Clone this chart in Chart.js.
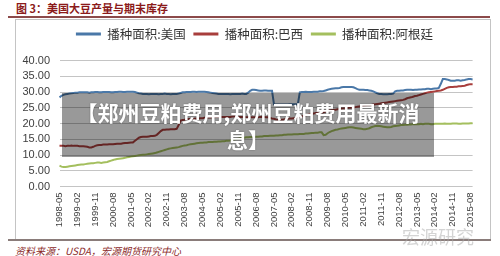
<!DOCTYPE html>
<html><head><meta charset="utf-8">
<script src="https://cdn.jsdelivr.net/npm/chart.js@4"></script>
<style>
html,body{margin:0;padding:0;background:#fff;width:500px;height:256px;overflow:hidden;position:relative;font-family:"Noto Sans CJK SC",sans-serif;}
#title{position:absolute;left:16px;top:2px;font-size:11px;line-height:13px;font-weight:bold;color:#8b1a1a;white-space:nowrap;}
#uline{position:absolute;left:8px;top:16px;width:482px;height:1.5px;background:#8c4a4a;}
#box{position:absolute;left:15px;top:19px;width:474px;height:220px;border:1px solid #c4c4c4;border-bottom:none;}
#bline{position:absolute;left:8px;top:239px;width:483px;height:2px;background:#8a7c7a;}
#cv{position:absolute;left:16px;top:20px;}
#src{position:absolute;left:15px;top:245px;font-size:10px;line-height:12px;font-style:italic;color:#8b2a2a;white-space:nowrap;}
#wm{position:absolute;left:402px;top:226px;font-size:18px;line-height:20px;color:rgba(170,170,170,0.5);white-space:nowrap;}
#ov{position:absolute;left:62px;top:92.5px;width:372px;height:64px;box-sizing:border-box;padding-top:6px;background:rgba(0,0,0,0.4);color:#fff;font-weight:bold;font-size:21px;line-height:27px;text-align:center;text-shadow:0 0 2px rgba(0,0,0,0.35);}
</style></head>
<body>
<div id="title">图 3：美国大豆产量与期末库存</div>
<div id="uline"></div>
<div id="box"></div>
<canvas id="cv" width="474" height="219"></canvas>
<div id="bline"></div>
<div id="src">资料来源：USDA，宏源期货研究中心</div>
<div id="wm">宏源研究</div>
<div id="ov">【郑州豆粕费用,郑州豆粕费用最新消<br>息】</div>
<script>
// monthly categories 1998-05 .. 2015-09
const startYear = 1998, startMonth = 5, monthCount = 209;
const months = [];
for (let i = 0; i < monthCount; i++) {
  const m = startMonth - 1 + i;
  months.push((startYear + Math.floor(m / 12)) + '-' + String(m % 12 + 1).padStart(2, '0'));
}
const tickLabels = ['1998-05','1999-02','1999-11','2000-08','2001-05','2002-02','2002-11','2003-08','2004-05','2005-02','2005-11','2006-08','2007-05','2008-02','2008-11','2009-08','2010-05','2011-02','2011-11','2012-08','2013-05','2014-02','2014-11','2015-08'];
const seriesNames = ['播种面积:美国','播种面积:巴西','播种面积:阿根廷'];

const usArea = [
28.3,28.8,29.1,29.3,29.4,29.5,29.6,29.7,29.8,29.8,29.9,29.9,
29.9,29.9,29.9,29.8,29.9,29.9,30.0,30.0,29.9,29.9,30.0,30.0,
30.0,30.0,29.9,29.9,30.0,30.0,30.1,30.1,30.0,30.0,30.1,30.1,
30.1,30.1,30.0,29.8,29.6,29.5,29.4,29.4,29.4,29.3,29.4,29.4,
29.4,29.4,29.3,29.4,29.4,29.5,29.4,29.4,29.3,29.4,29.4,29.4,
29.5,29.7,29.9,29.9,30.0,30.0,30.0,30.1,30.1,30.0,30.1,30.1,
30.1,30.1,30.0,29.9,29.8,29.7,29.6,29.5,29.4,29.4,29.4,29.4,
29.4,29.4,29.3,29.4,29.4,29.4,29.4,29.4,29.5,29.4,29.4,29.8,
30.4,30.7,30.7,30.6,30.5,30.4,30.4,30.5,30.5,30.4,30.4,30.4,
26.1,26.0,26.0,26.0,26.0,26.0,26.0,26.0,26.1,26.1,26.1,26.1,
26.1,29.9,30.0,30.0,30.1,30.0,30.0,30.0,30.1,30.1,30.1,30.2,
30.2,30.3,30.5,30.7,30.9,31.0,31.1,31.2,31.2,31.3,31.5,31.6,
31.6,31.6,31.6,31.6,31.5,31.2,30.9,30.7,30.7,30.7,30.6,30.6,
30.5,30.4,30.2,29.9,29.6,29.4,29.4,29.3,29.3,29.3,29.4,29.4,
29.5,30.2,30.4,30.4,30.5,30.5,30.6,30.7,30.7,30.7,30.6,30.7,
30.7,30.8,30.8,30.9,30.9,31.0,31.0,30.9,31.0,31.1,31.1,31.3,
32.6,34.1,34.1,34.0,33.8,33.6,33.6,33.6,33.7,33.7,33.6,33.7,
33.8,34.0,34.1,34.1,34.0];

const brazilArea = [
12.9,12.9,12.9,12.8,12.9,12.9,13.0,12.9,12.9,12.9,12.8,12.8,
12.8,12.7,12.6,12.4,12.4,12.6,12.9,13.1,13.2,13.2,13.3,13.3,
13.3,13.4,13.4,13.4,13.5,13.6,13.6,13.6,13.7,13.8,13.8,13.9,
14.0,14.0,14.5,15.0,15.5,15.7,15.8,15.8,15.8,15.9,16.0,16.0,
16.1,16.4,17.0,17.6,18.0,18.0,18.1,18.1,18.2,18.2,18.2,18.3,
19.5,20.9,21.1,21.2,21.4,21.4,21.4,21.5,21.5,21.6,21.6,21.7,
21.7,21.8,21.8,21.9,21.9,22.0,22.0,22.1,22.1,22.1,22.1,22.1,
22.1,22.1,22.1,22.2,22.2,22.2,22.1,22.1,22.1,22.1,22.0,22.0,
22.0,22.0,22.0,22.0,22.0,22.1,22.1,22.1,22.0,22.0,21.8,21.6,
21.5,21.3,21.2,21.2,21.2,21.3,21.4,21.5,21.6,21.6,21.7,21.8,
21.9,22.0,22.2,22.4,22.6,22.8,23.0,23.1,23.2,23.3,23.4,23.5,
23.5,23.6,23.8,24.0,24.1,24.2,24.3,24.4,24.5,24.6,24.7,24.8,
24.8,24.9,25.0,25.0,25.1,25.2,25.3,25.4,25.5,25.6,25.7,25.8,
25.8,25.9,26.0,26.1,26.2,26.3,26.4,26.5,26.6,26.7,26.8,26.9,
27.0,27.1,27.2,27.3,27.4,27.5,27.7,28.0,28.2,28.3,28.5,28.7,
28.8,29.0,29.2,29.4,29.6,29.8,29.9,30.0,30.1,30.2,30.3,30.4,
30.5,30.7,31.0,31.3,31.5,31.6,31.6,31.7,31.7,31.8,31.8,31.9,
32.0,32.2,32.4,32.5,32.5];

const argentinaArea = [
6.6,6.3,6.2,6.2,6.3,6.4,6.5,6.6,6.7,6.8,6.9,7.0,
7.0,7.1,7.2,7.3,7.4,7.4,7.5,7.6,7.6,7.5,7.6,7.7,
7.8,8.0,8.2,8.4,8.6,8.7,8.8,8.9,9.0,9.1,9.3,9.4,
9.5,9.6,9.7,9.8,9.9,10.0,10.1,10.1,10.2,10.3,10.4,10.5,
10.6,10.8,11.0,11.2,11.4,11.6,11.8,12.0,12.1,12.2,12.3,12.4,
12.5,12.7,12.9,13.0,13.1,13.3,13.4,13.5,13.6,13.7,13.8,13.9,
13.9,14.0,14.0,14.1,14.1,14.1,14.2,14.2,14.3,14.3,14.4,14.4,
14.5,14.5,14.6,14.8,15.0,15.1,15.2,15.3,15.4,15.5,15.6,15.6,
15.7,15.7,15.7,15.8,15.8,15.9,15.9,16.0,16.0,16.0,16.1,16.1,
16.1,16.2,16.2,16.3,16.3,16.4,16.4,16.5,16.5,16.5,16.6,16.6,
16.6,16.7,16.7,16.7,16.8,16.8,16.9,17.0,17.0,17.1,17.1,17.2,
17.2,16.3,16.4,16.9,17.3,17.6,17.8,18.0,18.1,18.3,18.4,18.5,
18.6,18.7,18.8,18.8,18.7,18.6,18.5,18.4,18.3,18.2,18.2,18.3,
18.5,18.8,19.0,19.2,19.3,19.2,19.1,19.0,18.9,18.8,18.8,18.9,
19.1,19.2,19.3,19.4,19.5,19.5,19.6,19.6,19.7,19.7,19.8,19.8,
19.8,19.8,19.9,19.8,19.9,19.9,19.9,19.8,19.8,19.9,19.9,19.9,
19.9,19.9,20.0,19.9,19.9,19.9,20.0,20.0,20.0,19.9,19.9,20.0,
20.0,20.0,20.0,20.1,20.1];

const colors = ['#4a78a8','#a83e3c','#a4bf5e'];
const seriesData = [usArea, brazilArea, argentinaArea];

const legendShift = {
  id: 'legendShift',
  afterLayout(chart) {
    const lg = chart.legend;
    if (lg) { lg.left += 5.15; lg.right += 5.15; }
  }
};

new Chart(document.getElementById('cv'), {
  type: 'line',
  data: {
    labels: months,
    datasets: seriesNames.map((n, i) => ({
      label: n, data: seriesData[i], borderColor: colors[i], backgroundColor: colors[i],
      borderWidth: 2, pointRadius: 0, tension: 0, fill: false
    }))
  },
  plugins: [legendShift],
  options: {
    responsive: false, animation: false, events: [],
    layout: { padding: { left: 6, right: 13.3, top: 0, bottom: 0 } },
    plugins: {
      tooltip: { enabled: false },
      legend: {
        position: 'top',
        labels: {
          boxWidth: 25, boxHeight: 0, padding: 7.75, color: '#333',
          font: { family: '"Noto Sans CJK SC"', size: 12.5 },
          generateLabels: (chart) => Chart.defaults.plugins.legend.labels.generateLabels(chart).map(l => Object.assign(l, { lineWidth: 3 }))
        }
      },
      subtitle: { display: true, text: ' ', position: 'top', weight: 500, padding: 0, font: { size: 10.25, lineHeight: 1 } }
    },
    scales: {
      x: {
        offset: false,
        grid: { display: false, drawTicks: false },
        border: { display: false },
        ticks: {
          autoSkip: false, minRotation: 90, maxRotation: 90, padding: 6, color: '#404040',
          font: { family: '"Liberation Sans"', size: 9.5 },
          callback: function (v) { const l = this.getLabelForValue(v); return tickLabels.includes(l) ? l : ''; }
        },
        afterFit: (s) => { s.height = 52.5; }
      },
      y: {
        min: 0, max: 40,
        grid: { color: '#c4c4c4', drawTicks: false, lineWidth: 1 },
        border: { display: false },
        ticks: {
          stepSize: 5, autoSkip: false, padding: 9.5, color: '#404040',
          font: { family: '"Liberation Sans"', size: 11 },
          callback: (v) => Number(v).toFixed(2)
        },
        afterFit: (s) => { s.width = 37.5; }
      }
    }
  }
});
</script>
</body></html>
